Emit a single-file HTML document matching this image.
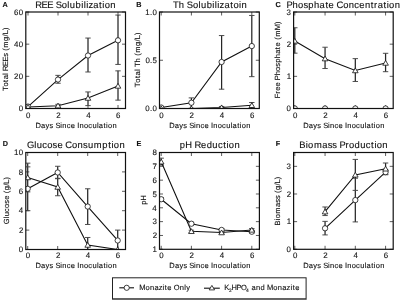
<!DOCTYPE html><html><head><meta charset="utf-8"><style>html,body{margin:0;padding:0;background:#fff;width:400px;height:300px;overflow:hidden}svg{display:block;filter:blur(0.3px)}text{font-family:"Liberation Sans", sans-serif;stroke:#111;stroke-width:0.12px;text-rendering:geometricPrecision}</style></head><body>
<svg width="400" height="300" viewBox="0 0 400 300">
<rect width="400" height="300" fill="#fff"/>
<path d="M28 108.5v-3.5M28 12v3.5M58 108.5v-3.5M58 12v3.5M88 108.5v-3.5M88 12v3.5M118 108.5v-3.5M118 12v3.5M25.8 108.5h3.5M125.5 108.5h-3.5M25.8 76.33h3.5M125.5 76.33h-3.5M25.8 44.17h3.5M125.5 44.17h-3.5M25.8 12h3.5M125.5 12h-3.5" stroke="#333" stroke-width="0.8" fill="none"/>
<text x="26.11" y="118" font-size="7.88" fill="#111">0</text>
<text x="56.21" y="118" font-size="7.88" fill="#111">2</text>
<text x="86.14" y="118" font-size="7.88" fill="#111">4</text>
<text x="116.08" y="118" font-size="7.88" fill="#111">6</text>
<text x="18.72" y="111.25" font-size="7.88" fill="#111">0</text>
<text x="13.95 18.72" y="79.08" font-size="7.88" fill="#111">20</text>
<text x="13.95 18.72" y="46.92" font-size="7.88" fill="#111">40</text>
<text x="13.95 18.72" y="14.75" font-size="7.88" fill="#111">60</text>
<text x="35.33 41.52 47.18 53.26 55.69 61.79 67.34 69.85 75.53 81.18 83.67 86.16 88.44 93.27 99.07 102.33 104.75 110.32" y="7.6" font-size="9.4" fill="#111">REE Solubilization</text>
<text x="2.49" y="7" font-size="7.25" font-weight="bold" fill="#111">A</text>
<text x="35.54 41.1 45.62 49.6 53.43 55.38 60.31 62.31 66.76 70.71 75.09 77.28 79.56 84.01 88.37 92.39 96.91 98.84 103.47 106.08 108.01 112.46" y="128" font-size="7.51" fill="#111">Days Since Inoculation</text>
<text transform="translate(8.2 59.5) rotate(-90)" x="-31.62 -27.05 -22.41 -19.86 -15.43 -13.51 -11.55 -6.6 -2.09 2.66 6.49 8.82 11.82 18.61 23.13 25.28 29.5" y="0" font-size="7.51" fill="#111">Total REEs (mg/L)</text>
<clipPath id="cA"><rect x="25.8" y="12" width="99.7" height="96.5"/></clipPath>
<g clip-path="url(#cA)">
<path d="M58 83.25V75.37M88 71.99V38.06M118 64.43V15.06M58 107.05V104.32M88 105.61V91.93M118 100.14V70.87" stroke="#262626" stroke-width="1.25" fill="none"/>
<path d="M55.3 83.25h5.4M55.3 75.37h5.4M85.3 71.99h5.4M85.3 38.06h5.4M115.3 64.43h5.4M115.3 15.06h5.4M55.3 107.05h5.4M55.3 104.32h5.4M85.3 105.61h5.4M85.3 91.93h5.4M115.3 100.14h5.4M115.3 70.87h5.4" stroke="#444" stroke-width="0.95" fill="none"/>
<polyline points="28,106.57 58,79.55 88,55.51 118,40.31" stroke="#111" stroke-width="1.1" fill="none"/>
<polyline points="28,107.05 58,105.7 88,98.05 118,85.98" stroke="#111" stroke-width="1.1" fill="none"/>
<circle cx="28" cy="106.57" r="2.65" fill="#fff" stroke="#111" stroke-width="0.8"/>
<circle cx="58" cy="79.55" r="2.65" fill="#fff" stroke="#111" stroke-width="0.8"/>
<circle cx="88" cy="55.51" r="2.65" fill="#fff" stroke="#111" stroke-width="0.8"/>
<circle cx="118" cy="40.31" r="2.65" fill="#fff" stroke="#111" stroke-width="0.8"/>
<path d="M28 104.45L25.2 109.25L30.8 109.25Z" fill="#fff" stroke="#111" stroke-width="0.8"/>
<path d="M58 103.1L55.2 107.9L60.8 107.9Z" fill="#fff" stroke="#111" stroke-width="0.8"/>
<path d="M88 95.45L85.2 100.25L90.8 100.25Z" fill="#fff" stroke="#111" stroke-width="0.8"/>
<path d="M118 83.38L115.2 88.18L120.8 88.18Z" fill="#fff" stroke="#111" stroke-width="0.8"/>
</g>
<rect x="25.8" y="12" width="99.7" height="96.5" fill="none" stroke="#111" stroke-width="1.2"/>
<path d="M161.2 108.5v-3.5M161.2 12v3.5M191.4 108.5v-3.5M191.4 12v3.5M221.6 108.5v-3.5M221.6 12v3.5M251.8 108.5v-3.5M251.8 12v3.5M159.5 108.5h3.5M259.3 108.5h-3.5M159.5 60.25h3.5M259.3 60.25h-3.5M159.5 12h3.5M259.3 12h-3.5" stroke="#333" stroke-width="0.8" fill="none"/>
<text x="159.31" y="118" font-size="7.88" fill="#111">0</text>
<text x="189.61" y="118" font-size="7.88" fill="#111">2</text>
<text x="219.74" y="118" font-size="7.88" fill="#111">4</text>
<text x="249.88" y="118" font-size="7.88" fill="#111">6</text>
<text x="145.27 149.94 152.42" y="111.25" font-size="7.88" fill="#111">0.0</text>
<text x="145.42 150.1 152.58" y="63" font-size="7.88" fill="#111">0.5</text>
<text x="145.27 149.94 152.42" y="14.75" font-size="7.88" fill="#111">1.0</text>
<text x="173.02 178.85 184.42 186.85 192.95 198.5 201.01 206.69 212.34 214.83 217.31 219.6 224.43 230.23 233.42 238.97 241.48" y="7.6" font-size="9.4" fill="#111">Th Solubilizatoin</text>
<text x="136.37" y="7" font-size="7.25" font-weight="bold" fill="#111">B</text>
<text x="169.29 174.85 179.37 183.35 187.18 189.13 194.06 196.06 200.51 204.46 208.84 211.03 213.31 217.76 222.12 226.14 230.66 232.59 237.22 239.83 241.76 246.21" y="128" font-size="7.51" fill="#111">Days Since Inoculation</text>
<text transform="translate(140.1 60.1) rotate(-90)" x="-27.21 -22.63 -18 -15.45 -11.01 -9.09 -7.02 -2.37 2.08 4.4 7.4 14.2 18.71 20.87 25.09" y="0" font-size="7.51" fill="#111">Total Th (mg/L)</text>
<clipPath id="cB"><rect x="159.5" y="12" width="99.8" height="96.5"/></clipPath>
<g clip-path="url(#cB)">
<path d="M191.4 108.21V97.89M221.6 89.2V35.55M251.8 76.66V15.47M221.6 108.5V106.57M251.8 108.11V102.52" stroke="#262626" stroke-width="1.25" fill="none"/>
<path d="M188.7 108.21h5.4M188.7 97.89h5.4M218.9 89.2h5.4M218.9 35.55h5.4M249.1 76.66h5.4M249.1 15.47h5.4M218.9 108.5h5.4M218.9 106.57h5.4M249.1 108.11h5.4M249.1 102.52h5.4" stroke="#444" stroke-width="0.95" fill="none"/>
<polyline points="161.2,107.53 191.4,102.71 221.6,61.99 251.8,46.06" stroke="#111" stroke-width="1.1" fill="none"/>
<polyline points="161.2,108.5 191.4,108.5 221.6,107.53 251.8,105.32" stroke="#111" stroke-width="1.1" fill="none"/>
<circle cx="161.2" cy="107.53" r="2.65" fill="#fff" stroke="#111" stroke-width="0.8"/>
<circle cx="191.4" cy="102.71" r="2.65" fill="#fff" stroke="#111" stroke-width="0.8"/>
<circle cx="221.6" cy="61.99" r="2.65" fill="#fff" stroke="#111" stroke-width="0.8"/>
<circle cx="251.8" cy="46.06" r="2.65" fill="#fff" stroke="#111" stroke-width="0.8"/>
<path d="M161.2 105.9L158.4 110.7L164 110.7Z" fill="#fff" stroke="#111" stroke-width="0.8"/>
<path d="M191.4 105.9L188.6 110.7L194.2 110.7Z" fill="#fff" stroke="#111" stroke-width="0.8"/>
<path d="M221.6 104.94L218.8 109.73L224.4 109.73Z" fill="#fff" stroke="#111" stroke-width="0.8"/>
<path d="M251.8 102.72L249 107.52L254.6 107.52Z" fill="#fff" stroke="#111" stroke-width="0.8"/>
</g>
<rect x="159.5" y="12" width="99.8" height="96.5" fill="none" stroke="#111" stroke-width="1.2"/>
<path d="M294.8 108.5v-3.5M294.8 12v3.5M325.06 108.5v-3.5M325.06 12v3.5M355.32 108.5v-3.5M355.32 12v3.5M385.58 108.5v-3.5M385.58 12v3.5M293.6 108.5h3.5M393.2 108.5h-3.5M293.6 76.33h3.5M393.2 76.33h-3.5M293.6 44.17h3.5M393.2 44.17h-3.5M293.6 12h3.5M393.2 12h-3.5" stroke="#333" stroke-width="0.8" fill="none"/>
<text x="292.91" y="118" font-size="7.88" fill="#111">0</text>
<text x="323.27" y="118" font-size="7.88" fill="#111">2</text>
<text x="353.46" y="118" font-size="7.88" fill="#111">4</text>
<text x="383.66" y="118" font-size="7.88" fill="#111">6</text>
<text x="286.52" y="111.25" font-size="7.88" fill="#111">0</text>
<text x="286.72" y="79.08" font-size="7.88" fill="#111">1</text>
<text x="286.78" y="46.92" font-size="7.88" fill="#111">2</text>
<text x="286.62" y="14.75" font-size="7.88" fill="#111">3</text>
<text x="286.49 292.54 298.12 303.45 308.36 314.03 319.61 325.42 328.62 334.1 336.56 343.2 348.78 354.34 359.29 364.88 370.77 374.11 377.64 383.45 386.71 389.12 394.69" y="7.6" font-size="9.4" fill="#111">Phosphate Concentration</text>
<text x="275.61" y="7" font-size="7.25" font-weight="bold" fill="#111">C</text>
<text x="303.29 308.85 313.37 317.35 321.18 323.13 328.06 330.06 334.51 338.46 342.84 345.03 347.31 351.76 356.12 360.14 364.66 366.59 371.22 373.83 375.76 380.21" y="128" font-size="7.51" fill="#111">Days Since Inoculation</text>
<text transform="translate(280.2 59.6) rotate(-90)" x="-38.63 -34.06 -31.23 -26.83 -22.45 -20.62 -15.78 -11.33 -7.07 -3.15 1.39 5.84 10.48 13.04 17.42 19.74 22.74 29.31 35.66" y="0" font-size="7.51" fill="#111">Free Phosphate (mM)</text>
<clipPath id="cC"><rect x="293.6" y="12" width="99.6" height="96.5"/></clipPath>
<g clip-path="url(#cC)">
<path d="M294.8 53.17V27.76M325.06 68.52V47.22M355.32 81.48V58.64M385.58 71.7V53.3" stroke="#262626" stroke-width="1.25" fill="none"/>
<path d="M292.1 53.17h5.4M292.1 27.76h5.4M322.36 68.52h5.4M322.36 47.22h5.4M352.62 81.48h5.4M352.62 58.64h5.4M382.88 71.7h5.4M382.88 53.3h5.4" stroke="#444" stroke-width="0.95" fill="none"/>
<polyline points="294.8,108.5 325.06,108.5 355.32,108.5 385.58,108.5" stroke="#111" stroke-width="1.1" fill="none"/>
<polyline points="294.8,40.95 325.06,58.64 355.32,70.54 385.58,63.02" stroke="#111" stroke-width="1.1" fill="none"/>
<circle cx="294.8" cy="108.5" r="2.65" fill="#fff" stroke="#111" stroke-width="0.8"/>
<circle cx="325.06" cy="108.5" r="2.65" fill="#fff" stroke="#111" stroke-width="0.8"/>
<circle cx="355.32" cy="108.5" r="2.65" fill="#fff" stroke="#111" stroke-width="0.8"/>
<circle cx="385.58" cy="108.5" r="2.65" fill="#fff" stroke="#111" stroke-width="0.8"/>
<path d="M294.8 38.35L292 43.15L297.6 43.15Z" fill="#fff" stroke="#111" stroke-width="0.8"/>
<path d="M325.06 56.04L322.26 60.84L327.86 60.84Z" fill="#fff" stroke="#111" stroke-width="0.8"/>
<path d="M355.32 67.94L352.52 72.74L358.12 72.74Z" fill="#fff" stroke="#111" stroke-width="0.8"/>
<path d="M385.58 60.42L382.78 65.22L388.38 65.22Z" fill="#fff" stroke="#111" stroke-width="0.8"/>
</g>
<rect x="293.6" y="12" width="99.6" height="96.5" fill="none" stroke="#111" stroke-width="1.2"/>
<path d="M27.7 249.5v-3.5M27.7 152.5v3.5M57.7 249.5v-3.5M57.7 152.5v3.5M87.7 249.5v-3.5M87.7 152.5v3.5M117.7 249.5v-3.5M117.7 152.5v3.5M25.8 249.5h3.5M125.5 249.5h-3.5M25.8 230.1h3.5M125.5 230.1h-3.5M25.8 210.7h3.5M125.5 210.7h-3.5M25.8 191.3h3.5M125.5 191.3h-3.5M25.8 171.9h3.5M125.5 171.9h-3.5M25.8 152.5h3.5M125.5 152.5h-3.5" stroke="#333" stroke-width="0.8" fill="none"/>
<text x="25.81" y="258" font-size="7.88" fill="#111">0</text>
<text x="55.91" y="258" font-size="7.88" fill="#111">2</text>
<text x="85.84" y="258" font-size="7.88" fill="#111">4</text>
<text x="115.78" y="258" font-size="7.88" fill="#111">6</text>
<text x="18.72" y="252.25" font-size="7.88" fill="#111">0</text>
<text x="18.98" y="232.85" font-size="7.88" fill="#111">2</text>
<text x="18.65" y="213.45" font-size="7.88" fill="#111">4</text>
<text x="18.7" y="194.05" font-size="7.88" fill="#111">6</text>
<text x="18.74" y="174.65" font-size="7.88" fill="#111">8</text>
<text x="13.95 18.72" y="155.25" font-size="7.88" fill="#111">10</text>
<text x="26.9 34.22 36.73 42.29 47.23 52.56 57.38 62.87 65.32 71.97 77.54 82.97 87.88 93.77 102.27 108.17 111.43 113.85 119.42" y="147.6" font-size="9.4" fill="#111">Glucose Consumption</text>
<text x="2.76" y="146.2" font-size="7.25" font-weight="bold" fill="#111">D</text>
<text x="35.54 41.1 45.62 49.6 53.43 55.38 60.31 62.31 66.76 70.71 75.09 77.28 79.56 84.01 88.37 92.39 96.91 98.84 103.47 106.08 108.01 112.46" y="268" font-size="7.51" fill="#111">Days Since Inoculation</text>
<text transform="translate(8.6 200.5) rotate(-90)" x="-23.68 -17.83 -15.82 -11.38 -7.44 -3.18 0.67 5.05 7.38 10.2 14.72 16.87 21.1" y="0" font-size="7.51" fill="#111">Glucose (g/L)</text>
<clipPath id="cD"><rect x="25.8" y="152.5" width="99.7" height="97"/></clipPath>
<g clip-path="url(#cD)">
<path d="M27.7 210.7V166.86M57.7 178.69V166.27M87.7 224.47V188.78M117.7 249.5V230.1M27.7 191.88V163.17M57.7 195.76V178.3M87.7 249.5V237.47" stroke="#262626" stroke-width="1.25" fill="none"/>
<path d="M25 210.7h5.4M25 166.86h5.4M55 178.69h5.4M55 166.27h5.4M85 224.47h5.4M85 188.78h5.4M115 249.5h5.4M115 230.1h5.4M25 191.88h5.4M25 163.17h5.4M55 195.76h5.4M55 178.3h5.4M85 249.5h5.4M85 237.47h5.4" stroke="#444" stroke-width="0.95" fill="none"/>
<polyline points="27.7,188.78 57.7,172.48 87.7,206.53 117.7,240.48" stroke="#111" stroke-width="1.1" fill="none"/>
<polyline points="27.7,177.53 57.7,187.03 87.7,245.04 117.7,249.5" stroke="#111" stroke-width="1.1" fill="none"/>
<circle cx="27.7" cy="188.78" r="2.65" fill="#fff" stroke="#111" stroke-width="0.8"/>
<circle cx="57.7" cy="172.48" r="2.65" fill="#fff" stroke="#111" stroke-width="0.8"/>
<circle cx="87.7" cy="206.53" r="2.65" fill="#fff" stroke="#111" stroke-width="0.8"/>
<circle cx="117.7" cy="240.48" r="2.65" fill="#fff" stroke="#111" stroke-width="0.8"/>
<path d="M27.7 174.93L24.9 179.73L30.5 179.73Z" fill="#fff" stroke="#111" stroke-width="0.8"/>
<path d="M57.7 184.43L54.9 189.23L60.5 189.23Z" fill="#fff" stroke="#111" stroke-width="0.8"/>
<path d="M87.7 242.44L84.9 247.24L90.5 247.24Z" fill="#fff" stroke="#111" stroke-width="0.8"/>
<path d="M117.7 246.9L114.9 251.7L120.5 251.7Z" fill="#fff" stroke="#111" stroke-width="0.8"/>
</g>
<rect x="25.8" y="152.5" width="99.7" height="97" fill="none" stroke="#111" stroke-width="1.2"/>
<path d="M161.2 249.3v-3.5M161.2 152.5v3.5M191.4 249.3v-3.5M191.4 152.5v3.5M221.6 249.3v-3.5M221.6 152.5v3.5M251.8 249.3v-3.5M251.8 152.5v3.5M159.5 249.3h3.5M259.4 249.3h-3.5M159.5 235.47h3.5M259.4 235.47h-3.5M159.5 221.64h3.5M259.4 221.64h-3.5M159.5 207.81h3.5M259.4 207.81h-3.5M159.5 193.99h3.5M259.4 193.99h-3.5M159.5 180.16h3.5M259.4 180.16h-3.5M159.5 166.33h3.5M259.4 166.33h-3.5M159.5 152.5h3.5M259.4 152.5h-3.5" stroke="#333" stroke-width="0.8" fill="none"/>
<text x="159.31" y="258" font-size="7.88" fill="#111">0</text>
<text x="189.61" y="258" font-size="7.88" fill="#111">2</text>
<text x="219.74" y="258" font-size="7.88" fill="#111">4</text>
<text x="249.88" y="258" font-size="7.88" fill="#111">6</text>
<text x="152.62" y="252.05" font-size="7.88" fill="#111">1</text>
<text x="152.68" y="238.22" font-size="7.88" fill="#111">2</text>
<text x="152.52" y="224.39" font-size="7.88" fill="#111">3</text>
<text x="152.35" y="210.56" font-size="7.88" fill="#111">4</text>
<text x="152.58" y="196.74" font-size="7.88" fill="#111">5</text>
<text x="152.4" y="182.91" font-size="7.88" fill="#111">6</text>
<text x="152.57" y="169.08" font-size="7.88" fill="#111">7</text>
<text x="152.44" y="155.25" font-size="7.88" fill="#111">8</text>
<text x="179.7 185.13 192 194.45 201.09 206.68 212.36 217.92 223.18 226.44 228.85 234.42" y="147.6" font-size="9.4" fill="#111">pH Reduction</text>
<text x="136.59" y="146.2" font-size="7.25" font-weight="bold" fill="#111">E</text>
<text x="169.34 174.9 179.42 183.4 187.23 189.18 194.11 196.11 200.56 204.51 208.89 211.08 213.36 217.81 222.17 226.19 230.71 232.64 237.27 239.88 241.81 246.26" y="268" font-size="7.51" fill="#111">Days Since Inoculation</text>
<text transform="translate(146 200.1) rotate(-90)" x="-4.75 -0.42" y="0" font-size="7.51" fill="#111">pH</text>
<clipPath id="cE"><rect x="159.5" y="152.5" width="99.9" height="96.8"/></clipPath>
<g clip-path="url(#cE)">
<path d="M161.2 200.9V197.58M191.4 225.1V222.33M221.6 231.32V228.56M251.8 233.12V230.35M161.2 165.08V158.17M191.4 232.43V230.22M221.6 233.67V231.46M251.8 231.32V228.56" stroke="#262626" stroke-width="1.25" fill="none"/>
<path d="M158.5 200.9h5.4M158.5 197.58h5.4M188.7 225.1h5.4M188.7 222.33h5.4M218.9 231.32h5.4M218.9 228.56h5.4M249.1 233.12h5.4M249.1 230.35h5.4M158.5 165.08h5.4M158.5 158.17h5.4M188.7 232.43h5.4M188.7 230.22h5.4M218.9 233.67h5.4M218.9 231.46h5.4M249.1 231.32h5.4M249.1 228.56h5.4" stroke="#444" stroke-width="0.95" fill="none"/>
<polyline points="161.2,199.24 191.4,223.72 221.6,229.94 251.8,231.74" stroke="#111" stroke-width="1.1" fill="none"/>
<polyline points="161.2,161.77 191.4,231.32 221.6,232.57 251.8,229.94" stroke="#111" stroke-width="1.1" fill="none"/>
<circle cx="161.2" cy="199.24" r="2.65" fill="#fff" stroke="#111" stroke-width="0.8"/>
<circle cx="191.4" cy="223.72" r="2.65" fill="#fff" stroke="#111" stroke-width="0.8"/>
<circle cx="221.6" cy="229.94" r="2.65" fill="#fff" stroke="#111" stroke-width="0.8"/>
<circle cx="251.8" cy="231.74" r="2.65" fill="#fff" stroke="#111" stroke-width="0.8"/>
<path d="M161.2 159.17L158.4 163.97L164 163.97Z" fill="#fff" stroke="#111" stroke-width="0.8"/>
<path d="M191.4 228.72L188.6 233.52L194.2 233.52Z" fill="#fff" stroke="#111" stroke-width="0.8"/>
<path d="M221.6 229.97L218.8 234.77L224.4 234.77Z" fill="#fff" stroke="#111" stroke-width="0.8"/>
<path d="M251.8 227.34L249 232.14L254.6 232.14Z" fill="#fff" stroke="#111" stroke-width="0.8"/>
</g>
<rect x="159.5" y="152.5" width="99.9" height="96.8" fill="none" stroke="#111" stroke-width="1.2"/>
<path d="M294.8 249.3v-3.5M294.8 152.5v3.5M325.06 249.3v-3.5M325.06 152.5v3.5M355.32 249.3v-3.5M355.32 152.5v3.5M385.58 249.3v-3.5M385.58 152.5v3.5M293.6 249.3h3.5M393.2 249.3h-3.5M293.6 221.64h3.5M393.2 221.64h-3.5M293.6 193.99h3.5M393.2 193.99h-3.5M293.6 166.33h3.5M393.2 166.33h-3.5" stroke="#333" stroke-width="0.8" fill="none"/>
<text x="292.91" y="258" font-size="7.88" fill="#111">0</text>
<text x="323.27" y="258" font-size="7.88" fill="#111">2</text>
<text x="353.46" y="258" font-size="7.88" fill="#111">4</text>
<text x="383.66" y="258" font-size="7.88" fill="#111">6</text>
<text x="286.52" y="252.05" font-size="7.88" fill="#111">0</text>
<text x="286.72" y="224.39" font-size="7.88" fill="#111">1</text>
<text x="286.78" y="196.74" font-size="7.88" fill="#111">2</text>
<text x="286.62" y="169.08" font-size="7.88" fill="#111">3</text>
<text x="299.3 305.71 308.12 313.92 322.32 327.65 332.32 337.12 339.41 345.52 349.05 354.62 360.3 365.86 371.12 374.38 376.79 382.36" y="147.6" font-size="9.4" fill="#111">Biomass Production</text>
<text x="275.69" y="146.2" font-size="7.25" font-weight="bold" fill="#111">F</text>
<text x="303.29 308.85 313.37 317.35 321.18 323.13 328.06 330.06 334.51 338.46 342.84 345.03 347.31 351.76 356.12 360.14 364.66 366.59 371.22 373.83 375.76 380.21" y="268" font-size="7.51" fill="#111">Days Since Inoculation</text>
<text transform="translate(280.2 200.9) rotate(-90)" x="-24.52 -19.4 -17.48 -12.84 -6.13 -1.87 1.86 5.69 8.01 10.84 15.36 17.51 21.73" y="0" font-size="7.51" fill="#111">Biomass (g/L)</text>
<clipPath id="cF"><rect x="293.6" y="152.5" width="99.6" height="96.8"/></clipPath>
<g clip-path="url(#cF)">
<path d="M325.06 234.92V221.37M355.32 221.92V178.22M385.58 174.63V169.65M325.06 215.56V206.98M355.32 190.39V159.41M385.58 174.63V163.01" stroke="#262626" stroke-width="1.25" fill="none"/>
<path d="M322.36 234.92h5.4M322.36 221.37h5.4M352.62 221.92h5.4M352.62 178.22h5.4M382.88 174.63h5.4M382.88 169.65h5.4M322.36 215.56h5.4M322.36 206.98h5.4M352.62 190.39h5.4M352.62 159.41h5.4M382.88 174.63h5.4M382.88 163.01h5.4" stroke="#444" stroke-width="0.95" fill="none"/>
<polyline points="325.06,228.28 355.32,200.07 385.58,172.14" stroke="#111" stroke-width="1.1" fill="none"/>
<polyline points="325.06,211.69 355.32,174.9 385.58,168.82" stroke="#111" stroke-width="1.1" fill="none"/>
<circle cx="325.06" cy="228.28" r="2.65" fill="#fff" stroke="#111" stroke-width="0.8"/>
<circle cx="355.32" cy="200.07" r="2.65" fill="#fff" stroke="#111" stroke-width="0.8"/>
<circle cx="385.58" cy="172.14" r="2.65" fill="#fff" stroke="#111" stroke-width="0.8"/>
<path d="M325.06 209.09L322.26 213.89L327.86 213.89Z" fill="#fff" stroke="#111" stroke-width="0.8"/>
<path d="M355.32 172.3L352.52 177.1L358.12 177.1Z" fill="#fff" stroke="#111" stroke-width="0.8"/>
<path d="M385.58 166.22L382.78 171.02L388.38 171.02Z" fill="#fff" stroke="#111" stroke-width="0.8"/>
</g>
<rect x="293.6" y="152.5" width="99.6" height="96.8" fill="none" stroke="#111" stroke-width="1.2"/>
<rect x="112.5" y="277.8" width="193.6" height="21" fill="#fff" stroke="#222" stroke-width="1"/><path d="M112 299.6H306.6" stroke="#555" stroke-width="0.9"/>
<path d="M119.3 287.8H134" stroke="#111" stroke-width="1.1"/>
<circle cx="126.7" cy="287.8" r="2.6" fill="#fff" stroke="#111" stroke-width="0.8"/>
<text x="139.16 145.47 149.92 154.38 158.65 162.57 164.75 167.31 171.69 173.76 179.68 184.19 186.25" y="290.3" font-size="7.51" fill="#111">Monazite Only</text>
<path d="M204 288.2H219.8" stroke="#111" stroke-width="1.1"/>
<path d="M211.9 285.4L209.2 289.9L214.6 289.9Z" fill="#fff" stroke="#111" stroke-width="0.8"/>
<text x="224.14" y="290.2" font-size="7.51" fill="#111">K</text>
<text x="228.88" y="292.2" font-size="4.83" fill="#111">2</text>
<text x="231.47 236.52 241.07" y="290.2" font-size="7.51" fill="#111">HPO</text>
<text x="246" y="292.4" font-size="4.83" fill="#111">4</text>
<text x="251.47 255.93 260.47 264.92 267.05 273.36 277.82 282.27 286.55 290.46 292.65 295.21" y="290.2" font-size="7.51" fill="#111">and Monazite</text>
</svg></body></html>
